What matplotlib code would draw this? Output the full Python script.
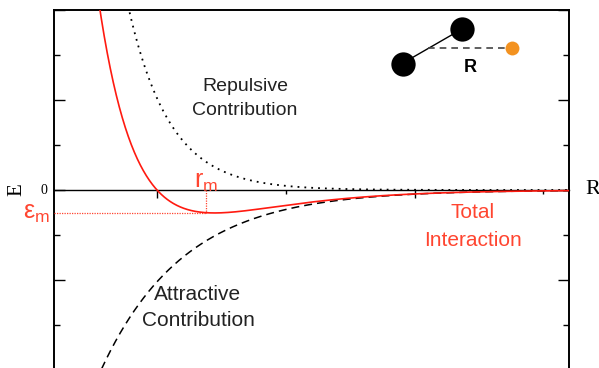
import numpy as np
import matplotlib
matplotlib.use("Agg")
import matplotlib.pyplot as plt
from matplotlib.ticker import MultipleLocator, FixedLocator

# Pair-interaction model: separation axis and energy axis ranges
X_LIMITS = (0.6, 2.6)
Y_LIMITS = (-2.0, 2.0)

# Model parameters (reduced units)
R_ZERO = 1.0      # separation where the total energy crosses zero
AMPLITUDE = 1.02  # size of each contribution at R_ZERO
K_REPULSIVE = 6.2
K_ATTRACTIVE = 3.1
R_M = 1.19        # separation of the potential well

W, H = 599, 368
DPI = 100

SANS = "Liberation Sans"
SERIF = "Liberation Serif"
RED = "#ff1a10"
LABEL_RED = "#ff4530"
TEXT_DARK = "#222222"

plt.rcParams["mathtext.fontset"] = "custom"
plt.rcParams["mathtext.rm"] = SANS
plt.rcParams["mathtext.it"] = SANS

r = np.linspace(X_LIMITS[0], X_LIMITS[1], 1200)
repulsive = AMPLITUDE * np.exp(-K_REPULSIVE * (r - R_ZERO))
attractive = -AMPLITUDE * np.exp(-K_ATTRACTIVE * (r - R_ZERO))
total = repulsive + attractive

e_at_rm = (AMPLITUDE * np.exp(-K_REPULSIVE * (R_M - R_ZERO))
           - AMPLITUDE * np.exp(-K_ATTRACTIVE * (R_M - R_ZERO)))

fig = plt.figure(figsize=(W / DPI, H / DPI), dpi=DPI)


def fpos(x, y):
    """Pixel position (from top-left) to figure fraction."""
    return x / W, 1 - y / H


left, right, top, bottom = 54, 569, 10, 370
ax = fig.add_axes([left / W, 1 - bottom / H, (right - left) / W, (bottom - top) / H])
ax.set_xlim(*X_LIMITS)
ax.set_ylim(*Y_LIMITS)

ax.plot(r, repulsive, color="black", lw=1.3, linestyle=(0, (1, 2.8)))
ax.plot(r, attractive, color="black", lw=1.1, linestyle=(0, (5.2, 3.3)))
ax.plot(r, total, color=RED, lw=1.2, zorder=4)

# Guides marking the well position and depth
ax.plot([X_LIMITS[0], R_M], [e_at_rm, e_at_rm], color=LABEL_RED, lw=0.9,
        linestyle=(0, (1, 1)), zorder=3)
ax.plot([R_M, R_M], [0, e_at_rm], color=LABEL_RED, lw=0.9,
        linestyle=(0, (1, 1)), zorder=3)

# Frame: separation axis drawn through zero energy
for side in ("left", "right", "top"):
    ax.spines[side].set_linewidth(1.4)
ax.spines["bottom"].set_position(("data", 0))
ax.spines["bottom"].set_linewidth(1.0)

ax.yaxis.set_major_locator(MultipleLocator(1.0))
ax.yaxis.set_minor_locator(MultipleLocator(0.5))
ax.xaxis.set_major_locator(FixedLocator([1.0, 2.0]))
ax.xaxis.set_minor_locator(FixedLocator([1.5, 2.5]))
ax.tick_params(axis="y", which="both", direction="in", left=True, right=True,
               labelleft=False, labelright=False, width=1.0)
ax.tick_params(axis="y", which="major", length=8)
ax.tick_params(axis="y", which="minor", length=4)
ax.tick_params(axis="x", which="both", direction="out", bottom=True, top=False,
               labelbottom=False, width=1.0)
ax.tick_params(axis="x", which="major", length=6)
ax.tick_params(axis="x", which="minor", length=3)

# Axis labels
fig.text(*fpos(44, 190), "0", family=SERIF, fontsize=10, ha="center", va="center")
fig.text(*fpos(17, 190), "E", family=SERIF, fontsize=15, ha="center", va="center",
         rotation=90)
fig.text(*fpos(585, 190), "R", family=SERIF, fontsize=16, ha="left", va="center")

# Well labels
fig.text(*fpos(50, 213), r"$\varepsilon_{\mathrm{m}}$", color=LABEL_RED, fontsize=18,
         ha="right", va="center")
fig.text(*fpos(206, 182), r"$r_{\mathrm{m}}$", color=LABEL_RED, fontsize=18,
         ha="center", va="center")

# Curve annotations
fig.text(*fpos(245, 98.5), "Repulsive\nContribution", family=SANS, fontsize=14,
         color=TEXT_DARK, ha="center", va="center", linespacing=1.55)
fig.text(*fpos(198, 307.5), "Attractive\nContribution", family=SANS, fontsize=15,
         color=TEXT_DARK, ha="center", va="center", linespacing=1.45)
fig.text(*fpos(473, 226.5), "Total\nInteraction", family=SANS, fontsize=15,
         color=LABEL_RED, ha="center", va="center", linespacing=1.55)

# Molecule sketch: two bonded atoms and a probe atom at distance R
fig.lines.append(plt.Line2D([403 / W, 462 / W], [1 - 63 / H, 1 - 29 / H],
                            transform=fig.transFigure, color="black", lw=1.0))
fig.lines.append(plt.Line2D([428 / W, 512 / W], [1 - 48 / H, 1 - 48 / H],
                            transform=fig.transFigure, color="#444444", lw=1.2,
                            linestyle=(0, (4, 3))))
for (cx, cy, size, col) in [(403, 64, 17.5, "black"), (462, 29, 17.5, "black"),
                            (512, 48, 10, "#f39220")]:
    fig.lines.append(plt.Line2D([cx / W], [1 - cy / H], transform=fig.transFigure,
                                marker="o", markersize=size, color=col,
                                markeredgewidth=0, linestyle="none"))
fig.text(*fpos(470, 67), "R", family=SANS, fontsize=13, fontweight="bold",
         ha="center", va="center")

fig.savefig("out.png", dpi=DPI)
